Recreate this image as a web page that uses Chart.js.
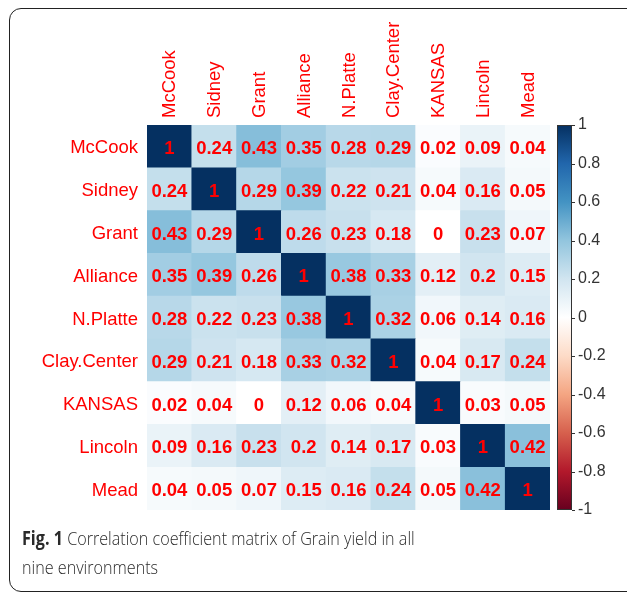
<!DOCTYPE html>
<html>
<head>
<meta charset="utf-8">
<script src="https://cdn.jsdelivr.net/npm/chart.js@4.4.1/dist/chart.umd.min.js"></script>
<style>
body { margin: 0; background: #fff; }
#wrap { position: relative; width: 627px; height: 592px; overflow: hidden; }
#frame { position: absolute; left: 9px; top: 8px; width: 650px; height: 582px; border: 1.5px solid #222; border-radius: 12px; }
#chart { position: absolute; left: 0; top: 0; }
#cap { position: absolute; left: 22px; top: 524px; font-family: "Open Sans", sans-serif; font-weight: 300; font-size: 19px; line-height: 29px; color: #2a2a2a; white-space: nowrap; transform: scaleX(0.85); transform-origin: 0 0; }
#cap b { font-weight: 700; }
</style>
</head>
<body>
<div id="wrap">
  <div id="frame"></div>
  <canvas id="chart" width="627" height="592"></canvas>
  <div id="cap"><b>Fig. 1</b> Correlation coefficient matrix of Grain yield in all<br>nine environments</div>
</div>
<script>
// environments (rows and columns)
const envs = ['McCook', 'Sidney', 'Grant', 'Alliance', 'N.Platte', 'Clay.Center', 'KANSAS', 'Lincoln', 'Mead'];

// correlation rows
const rMcCook   = [1, 0.24, 0.43, 0.35, 0.28, 0.29, 0.02, 0.09, 0.04];
const rSidney   = [0.24, 1, 0.29, 0.39, 0.22, 0.21, 0.04, 0.16, 0.05];
const rGrant    = [0.43, 0.29, 1, 0.26, 0.23, 0.18, 0, 0.23, 0.07];
const rAlliance = [0.35, 0.39, 0.26, 1, 0.38, 0.33, 0.12, 0.2, 0.15];
const rNPlatte  = [0.28, 0.22, 0.23, 0.38, 1, 0.32, 0.06, 0.14, 0.16];
const rClay     = [0.29, 0.21, 0.18, 0.33, 0.32, 1, 0.04, 0.17, 0.24];
const rKansas   = [0.02, 0.04, 0, 0.12, 0.06, 0.04, 1, 0.03, 0.05];
const rLincoln  = [0.09, 0.16, 0.23, 0.2, 0.14, 0.17, 0.03, 1, 0.42];
const rMead     = [0.04, 0.05, 0.07, 0.15, 0.16, 0.24, 0.05, 0.42, 1];
const corr = [rMcCook, rSidney, rGrant, rAlliance, rNPlatte, rClay, rKansas, rLincoln, rMead];

// colour bar ticks
const cbTicks = [1, 0.8, 0.6, 0.4, 0.2, 0, -0.2, -0.4, -0.6, -0.8, -1];

// RdBu palette stops, -1 .. 1
const palette = ['#67001F', '#B2182B', '#D6604D', '#F4A582', '#FDDBC7', '#FFFFFF',
                 '#D1E5F0', '#92C5DE', '#4393C3', '#2166AC', '#053061'];

const labelFont = '18.5px "Liberation Sans", Arial, sans-serif';

function hex2rgb(h) {
    return [parseInt(h.substr(1, 2), 16), parseInt(h.substr(3, 2), 16), parseInt(h.substr(5, 2), 16)];
}
function colorFor(v) {
    let p = (v + 1) / 2 * (palette.length - 1);
    let i = Math.min(Math.floor(p), palette.length - 2);
    let f = p - i;
    let a = hex2rgb(palette[i]), b = hex2rgb(palette[i + 1]);
    let c = a.map((x, k) => Math.round(x + (b[k] - x) * f));
    return 'rgb(' + c.join(',') + ')';
}

// one stacked dataset per row, bottom row first
const datasets = [];
for (let d = 0; d < envs.length; d++) {
    let row = envs.length - 1 - d;
    datasets.push({
        label: envs[row],
        data: envs.map(() => 1),
        vals: corr[row],
        backgroundColor: corr[row].map(colorFor),
        borderWidth: 0,
        barPercentage: 1,
        categoryPercentage: 1
    });
}

const cellLabels = {
    id: 'cellLabels',
    afterDatasetsDraw(chart) {
        const ctx = chart.ctx;
        ctx.save();
        ctx.font = 'bold 18.5px "Liberation Sans", Arial, sans-serif';
        ctx.fillStyle = '#FF0000';
        ctx.textAlign = 'center';
        ctx.textBaseline = 'middle';
        chart.data.datasets.forEach((ds, i) => {
            chart.getDatasetMeta(i).data.forEach((el, j) => {
                let p = el.getProps(['x', 'y', 'base'], true);
                ctx.fillText(String(ds.vals[j]), p.x, (p.y + p.base) / 2 + 2.5);
            });
        });
        ctx.restore();
    }
};

// vertical column names above the matrix
const colLabels = {
    id: 'colLabels',
    afterDraw(chart) {
        const s = chart.scales.x;
        const ctx = chart.ctx;
        ctx.save();
        ctx.font = labelFont;
        ctx.fillStyle = '#FF0000';
        ctx.textAlign = 'left';
        ctx.textBaseline = 'middle';
        envs.forEach((name, i) => {
            ctx.save();
            ctx.translate(s.getPixelForTick(i) + 1, s.bottom - 7);
            ctx.rotate(-Math.PI / 2);
            ctx.fillText(name, 0, 0);
            ctx.restore();
        });
        ctx.restore();
    }
};

const colorBar = {
    id: 'colorBar',
    afterDraw(chart) {
        const s = chart.scales.cb;
        const ctx = chart.ctx;
        const x0 = s.left + 7, w = 15;
        const yTop = s.getPixelForValue(1), yBot = s.getPixelForValue(-1);
        const g = ctx.createLinearGradient(0, yBot, 0, yTop);
        palette.forEach((c, k) => g.addColorStop(k / (palette.length - 1), c));
        ctx.save();
        ctx.fillStyle = g;
        ctx.fillRect(x0, yTop, w, yBot - yTop);
        ctx.strokeStyle = '#333';
        ctx.lineWidth = 1;
        ctx.strokeRect(x0 + 0.5, yTop + 0.5, w - 1, yBot - yTop - 1);
        ctx.beginPath();
        cbTicks.forEach(v => {
            let y = Math.round(s.getPixelForValue(v)) + 0.5;
            ctx.moveTo(x0 + w, y);
            ctx.lineTo(x0 + w + 3, y);
        });
        ctx.stroke();
        ctx.restore();
    }
};

new Chart(document.getElementById('chart'), {
    type: 'bar',
    data: { labels: envs, datasets: datasets },
    options: {
        responsive: false,
        animation: false,
        layout: { padding: { top: 0, left: 0, right: 0, bottom: 82 } },
        plugins: { legend: { display: false }, tooltip: { enabled: false } },
        scales: {
            x: {
                type: 'category',
                position: 'top',
                stacked: true,
                grid: { display: false, drawTicks: false },
                border: { display: false },
                ticks: { display: false },
                afterFit(scale) { scale.height = 125; }
            },
            y: { display: false, stacked: true, min: 0, max: 9 },
            rows: {
                type: 'category',
                labels: envs,
                position: 'left',
                offset: true,
                grid: { display: false, drawTicks: false },
                border: { display: false },
                ticks: {
                    padding: 9,
                    labelOffset: 2,
                    color: '#FF0000',
                    font: { family: '"Liberation Sans", Arial, sans-serif', size: 18.5 }
                },
                afterFit(scale) { scale.width = 147; }
            },
            cb: {
                type: 'linear',
                position: 'right',
                min: -1, max: 1,
                grid: { display: false, drawTicks: false },
                border: { display: false },
                afterBuildTicks(scale) { scale.ticks = cbTicks.map(v => ({ value: v })); },
                ticks: {
                    padding: 28,
                    color: '#333',
                    font: { family: '"Liberation Sans", Arial, sans-serif', size: 16 },
                    callback: v => String(v)
                },
                afterFit(scale) { scale.width = 77; }
            }
        }
    },
    plugins: [cellLabels, colLabels, colorBar]
});
</script>
</body>
</html>
